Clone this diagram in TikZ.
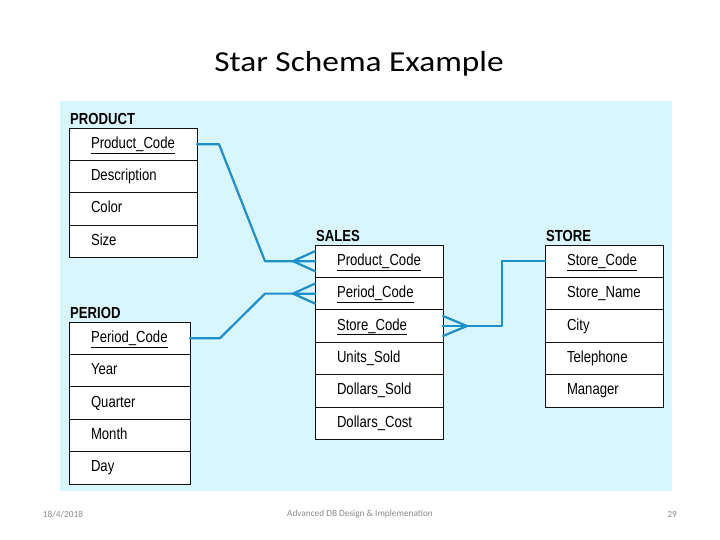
\documentclass[tikz,border=0pt]{standalone}
\usepackage{fontspec}
\setmainfont{Carlito}
\newfontfamily\erfont[FakeStretch=0.82]{Liberation Sans}
\newfontfamily\headfont[FakeStretch=1.15]{Carlito}
\usetikzlibrary{positioning,calc}
\definecolor{ssPanel}{HTML}{D8F6FC}
\definecolor{ssLink}{HTML}{1D8FC9}
\definecolor{ssInk}{HTML}{111111}
\definecolor{ssFoot}{HTML}{8A8A8A}
\tikzset{
  fld/.style={draw=ssInk, fill=white, line width=0.9pt, outer sep=0pt, inner xsep=2pt, inner ysep=0pt, minimum height=32.4pt, text height=12pt, text depth=4pt, align=left, anchor=north west, font=\erfont\fontsize{16}{18}\selectfont, execute at begin node=\hspace*{20pt}},
  ttl/.style={font=\erfont\bfseries\fontsize{16}{18}\selectfont, inner sep=1pt, anchor=south west, yshift=2pt},
  rel/.style={draw=ssLink, line width=2.2pt, line join=round, line cap=round},
  foot/.style={font=\fontsize{9.3}{11}\selectfont, text=ssFoot},
}
\begin{document}
\begin{tikzpicture}[x=1pt,y=-1pt]
  \useasboundingbox (0,0) rectangle (720,540);
  \fill[ssPanel] (60,101) rectangle (672,491);
  \node[font=\headfont\fontsize{29}{34}\selectfont] (title) at (359,64) {Star Schema Example};
  % dimension tables
  \foreach \t [count=\k] in {\underline{Product\_Code},Description,Color,Size}
    \node[fld, text width=124pt] (prod\k) at (69,95.6+\k*32.4) {\t};
  \node[ttl] (prodT) at (prod1.north west) {PRODUCT};
  \foreach \t [count=\k] in {\underline{Period\_Code},Year,Quarter,Month,Day}
    \node[fld, text width=117pt] (per\k) at (69,289.6+\k*32.4) {\t};
  \node[ttl] (perT) at (per1.north west) {PERIOD};
  \foreach \t [count=\k] in {\underline{Store\_Code},Store\_Name,City,Telephone,Manager}
    \node[fld, text width=114pt] (sto\k) at (545,212.6+\k*32.4) {\t};
  \node[ttl] (stoT) at (sto1.north west) {STORE};
  % fact table
  \foreach \t [count=\k] in {\underline{Product\_Code},\underline{Period\_Code},\underline{Store\_Code},Units\_Sold,Dollars\_Sold,Dollars\_Cost}
    \node[fld, text width=124pt] (sal\k) at (315,212.6+\k*32.4) {\t};
  \node[ttl] (salT) at (sal1.north west) {SALES};
  % relationships
  \draw[rel] (prod1.east) -- ++(22,0) -- ($(sal1.west)+(-50,0)$) -- (sal1.west);
  \draw[rel] (per1.east) -- ++(30,0) -- ($(sal2.west)+(-50,0)$) -- (sal2.west);
  \draw[rel] (sal3.east) -- ++(59,0) |- (sto1.west);
  % crow's feet
  \foreach \r in {sal1,sal2}
    \foreach \d in {-10,0,10}
      \draw[rel] ($(\r.west)+(-22,0)$) -- ($(\r.west)+(0,\d)$);
  \foreach \d in {-10,0,10}
    \draw[rel] ($(sal3.east)+(24,0)$) -- ($(sal3.east)+(0,\d)$);
  % footer
  \node[foot] (date) at (63,514) {18/4/2018};
  \node[foot] (course) at (360,514) {Advanced DB Design \& Implemenation};
  \node[foot] (pageno) at (672,514) {29};
\end{tikzpicture}
\end{document}
